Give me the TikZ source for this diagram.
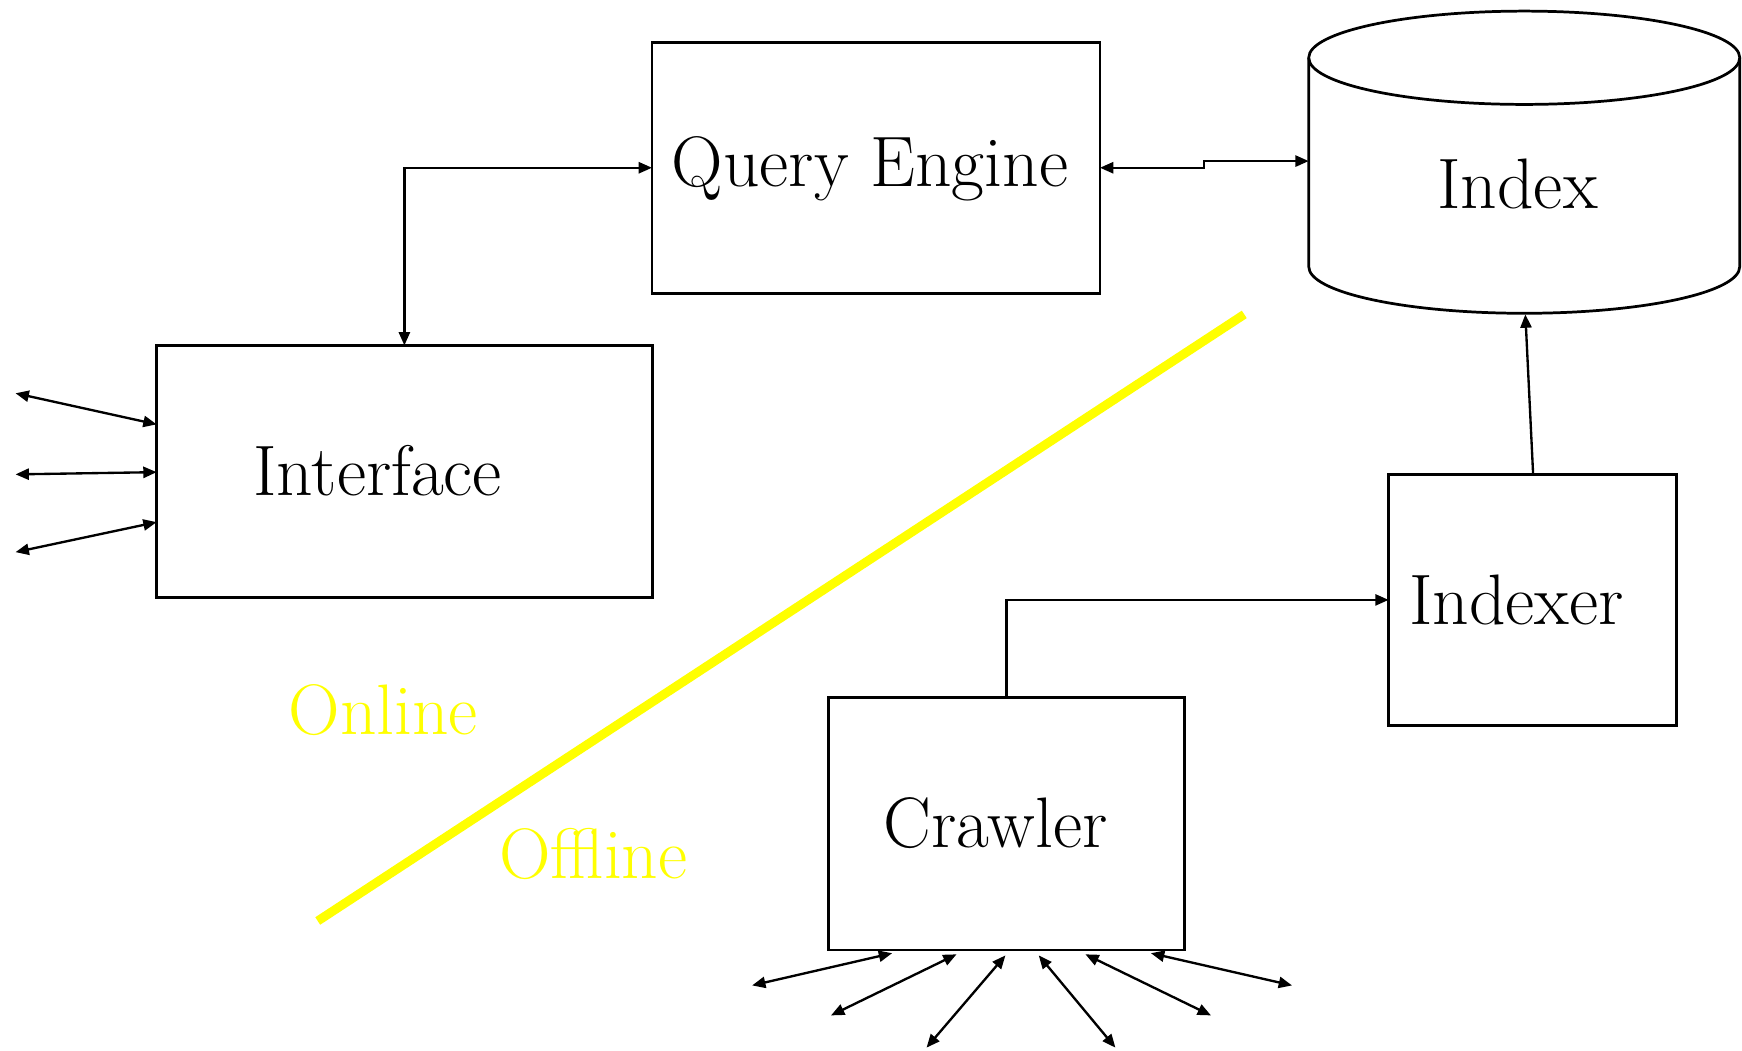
\documentclass[tikz,border=0pt]{standalone}
\usetikzlibrary{arrows.meta}
\definecolor{markyellow}{RGB}{255,255,0}
\begin{document}
\begin{tikzpicture}[x=0.01cm,y=-0.01cm,
  box/.style={draw,line width=0.7pt,inner sep=0pt,outer sep=0pt},
  lbl/.style={font=\fontsize{18.3}{22}\selectfont,inner sep=0pt},
  zone/.style={font=\fontsize{18.3}{22}\selectfont,text=markyellow,inner sep=0pt},
  tip/.style={line width=0.6pt,-{Triangle[length=0.12cm,width=0.1cm]}},
  twotip/.style={line width=0.6pt,{Triangle[length=0.12cm,width=0.1cm]}-{Triangle[length=0.12cm,width=0.1cm]}}]
\useasboundingbox (0,0) rectangle (1568,946);

% boxes
\node[box,minimum width=4.03cm,minimum height=2.26cm] (qe) at (788.5,151) {};
\node[box,minimum width=4.46cm,minimum height=2.27cm] (ui) at (364,424.5) {};
\node[box,minimum width=2.59cm,minimum height=2.26cm] (ixr) at (1379.5,540) {};
\node[box,minimum width=3.20cm,minimum height=2.27cm] (cr) at (906,741.5) {};

% index store drawn as a cylinder (y axis points down, so the lower rim runs 180 -> 0)
\draw[line width=0.7pt] (1178,52) -- (1178,240) arc[start angle=180,end angle=0,x radius=194,y radius=42]
  -- (1566,52);
\draw[line width=0.7pt] (1372,52) ellipse[x radius=194,y radius=42];
\node[minimum width=3.88cm,minimum height=2.72cm,inner sep=0pt,outer sep=0pt] (idx) at (1372,146) {};
\coordinate (idxbottom) at (1373,283);
\coordinate (idxleft) at (1178,145);

% labels
\node[lbl] at (783,152) {Query Engine};
\node[lbl] at (1366,166) {Index};
\node[lbl] at (340,424) {Interface};
\node[lbl] at (1365,540) {Indexer};
\node[lbl] at (896,741) {Crawler};
\node[zone] at (345,639) {Online};
\node[zone] at (534,769) {Offline};

% online / offline divider
\draw[markyellow,line width=2.3pt] (286,829) -- (1120,283);

% links between components
\draw[twotip] (ui.north) |- (qe.west);
\draw[twotip] (qe.east) -- (1084,151) -- (1084,145) -- (idxleft);
\draw[tip] (1380,427) -- (idxbottom);
\draw[tip] (cr.north) |- (ixr.west);

% interface endpoints
\coordinate (u1) at (14,354);
\coordinate (u2) at (14,427);
\coordinate (u3) at (14,497);
\draw[twotip] (u1) -- (141,382);
\draw[twotip] (u2) -- (141,425);
\draw[twotip] (u3) -- (141,470);

% crawler endpoints
\coordinate (c1) at (677,887);
\coordinate (c2) at (748,914);
\coordinate (c3) at (834,943);
\coordinate (c4) at (1004,943);
\coordinate (c5) at (1090,914);
\coordinate (c6) at (1163,887);
\draw[twotip] (c1) -- (803,858);
\draw[twotip] (c2) -- (861,859);
\draw[twotip] (c3) -- (905,860);
\draw[twotip] (c4) -- (935,860);
\draw[twotip] (c5) -- (977,859);
\draw[twotip] (c6) -- (1036,858);
\end{tikzpicture}
\end{document}
